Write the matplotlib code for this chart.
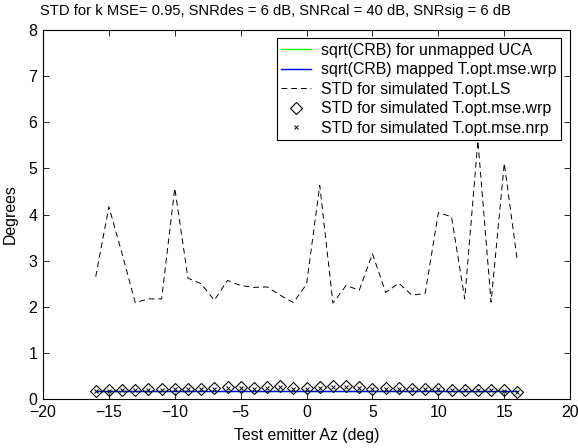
import numpy as np
import matplotlib.pyplot as plt

plt.rcParams['font.family'] = ['Liberation Sans', 'DejaVu Sans']

# test emitter azimuths (deg)
az = np.arange(-16, 17)

# sqrt(CRB) curves
crb_unmapped = [0.18] * len(az)
crb_mapped = [0.18] * len(az)

# simulated STD, LS calibration
std_ls = [2.65, 4.17, 3.15, 2.09, 2.17, 2.17, 4.57, 2.62, 2.50, 2.14, 2.57,
          2.46, 2.42, 2.43, 2.25, 2.09, 2.49, 4.63, 2.08, 2.46, 2.36, 3.15,
          2.31, 2.51, 2.25, 2.29, 4.04, 3.95, 2.17, 5.60, 2.10, 5.11, 2.98]

# simulated STD, MSE-optimal with / without reference point
std_wrp = [0.18, 0.20, 0.20, 0.20, 0.21, 0.22, 0.22, 0.22, 0.22, 0.24, 0.25,
           0.25, 0.24, 0.25, 0.29, 0.24, 0.24, 0.25, 0.28, 0.29, 0.25, 0.22,
           0.24, 0.24, 0.22, 0.22, 0.22, 0.20, 0.20, 0.20, 0.20, 0.19, 0.16]
std_nrp = [0.17, 0.18, 0.19, 0.19, 0.20, 0.20, 0.21, 0.21, 0.21, 0.22, 0.23,
           0.23, 0.22, 0.23, 0.26, 0.22, 0.22, 0.23, 0.25, 0.26, 0.23, 0.21,
           0.22, 0.22, 0.21, 0.21, 0.21, 0.19, 0.19, 0.19, 0.19, 0.18, 0.16]

fs = 11.4

fig = plt.figure(figsize=(5.78, 4.48), dpi=100)
ax = fig.add_axes([0.0744, 0.1094, 0.912, 0.8236])

ax.plot(az, crb_unmapped, color='#00ff00', lw=1.0, label='sqrt(CRB) for unmapped UCA')
ax.plot(az, crb_mapped, color='#0000ff', lw=1.0, label='sqrt(CRB) mapped T.opt.mse.wrp')
ax.plot(az, std_ls, color='black', lw=0.7, dashes=(6, 4), label='STD for simulated T.opt.LS')
ax.plot(az, std_wrp, ls='none', marker='D', ms=6.3, mfc='none', mec='black', mew=0.8,
        label='STD for simulated T.opt.mse.wrp')
ax.plot(az, std_nrp, ls='none', marker='x', ms=3.5, color='black', mew=0.7,
        label='STD for simulated T.opt.mse.nrp')

ax.set_xlim(-20, 20)
ax.set_ylim(0, 8)
ax.set_xticks(np.arange(-20, 21, 5))
ax.set_yticks(np.arange(0, 9, 1))
ax.tick_params(direction='in', top=True, right=True, length=4, width=0.6,
               labelsize=fs, pad=4)
for s in ax.spines.values():
    s.set_linewidth(0.8)

ax.set_xlabel('Test emitter Az (deg)', fontsize=fs, labelpad=6)
ax.set_ylabel('Degrees', fontsize=fs, labelpad=8)
ax.set_title('STD for k MSE= 0.95, SNRdes = 6 dB, SNRcal = 40 dB, SNRsig = 6 dB',
             fontsize=10.6, x=0.44, pad=11)

leg = ax.legend(loc='upper right', bbox_to_anchor=(0.983, 0.978), fontsize=fs,
                fancybox=False, framealpha=1, edgecolor='black', handlelength=1.9,
                labelspacing=0.28, borderpad=0.3, handletextpad=0.6, borderaxespad=0.0)
leg.get_frame().set_linewidth(0.8)

fig.savefig('out.png', dpi=100)
